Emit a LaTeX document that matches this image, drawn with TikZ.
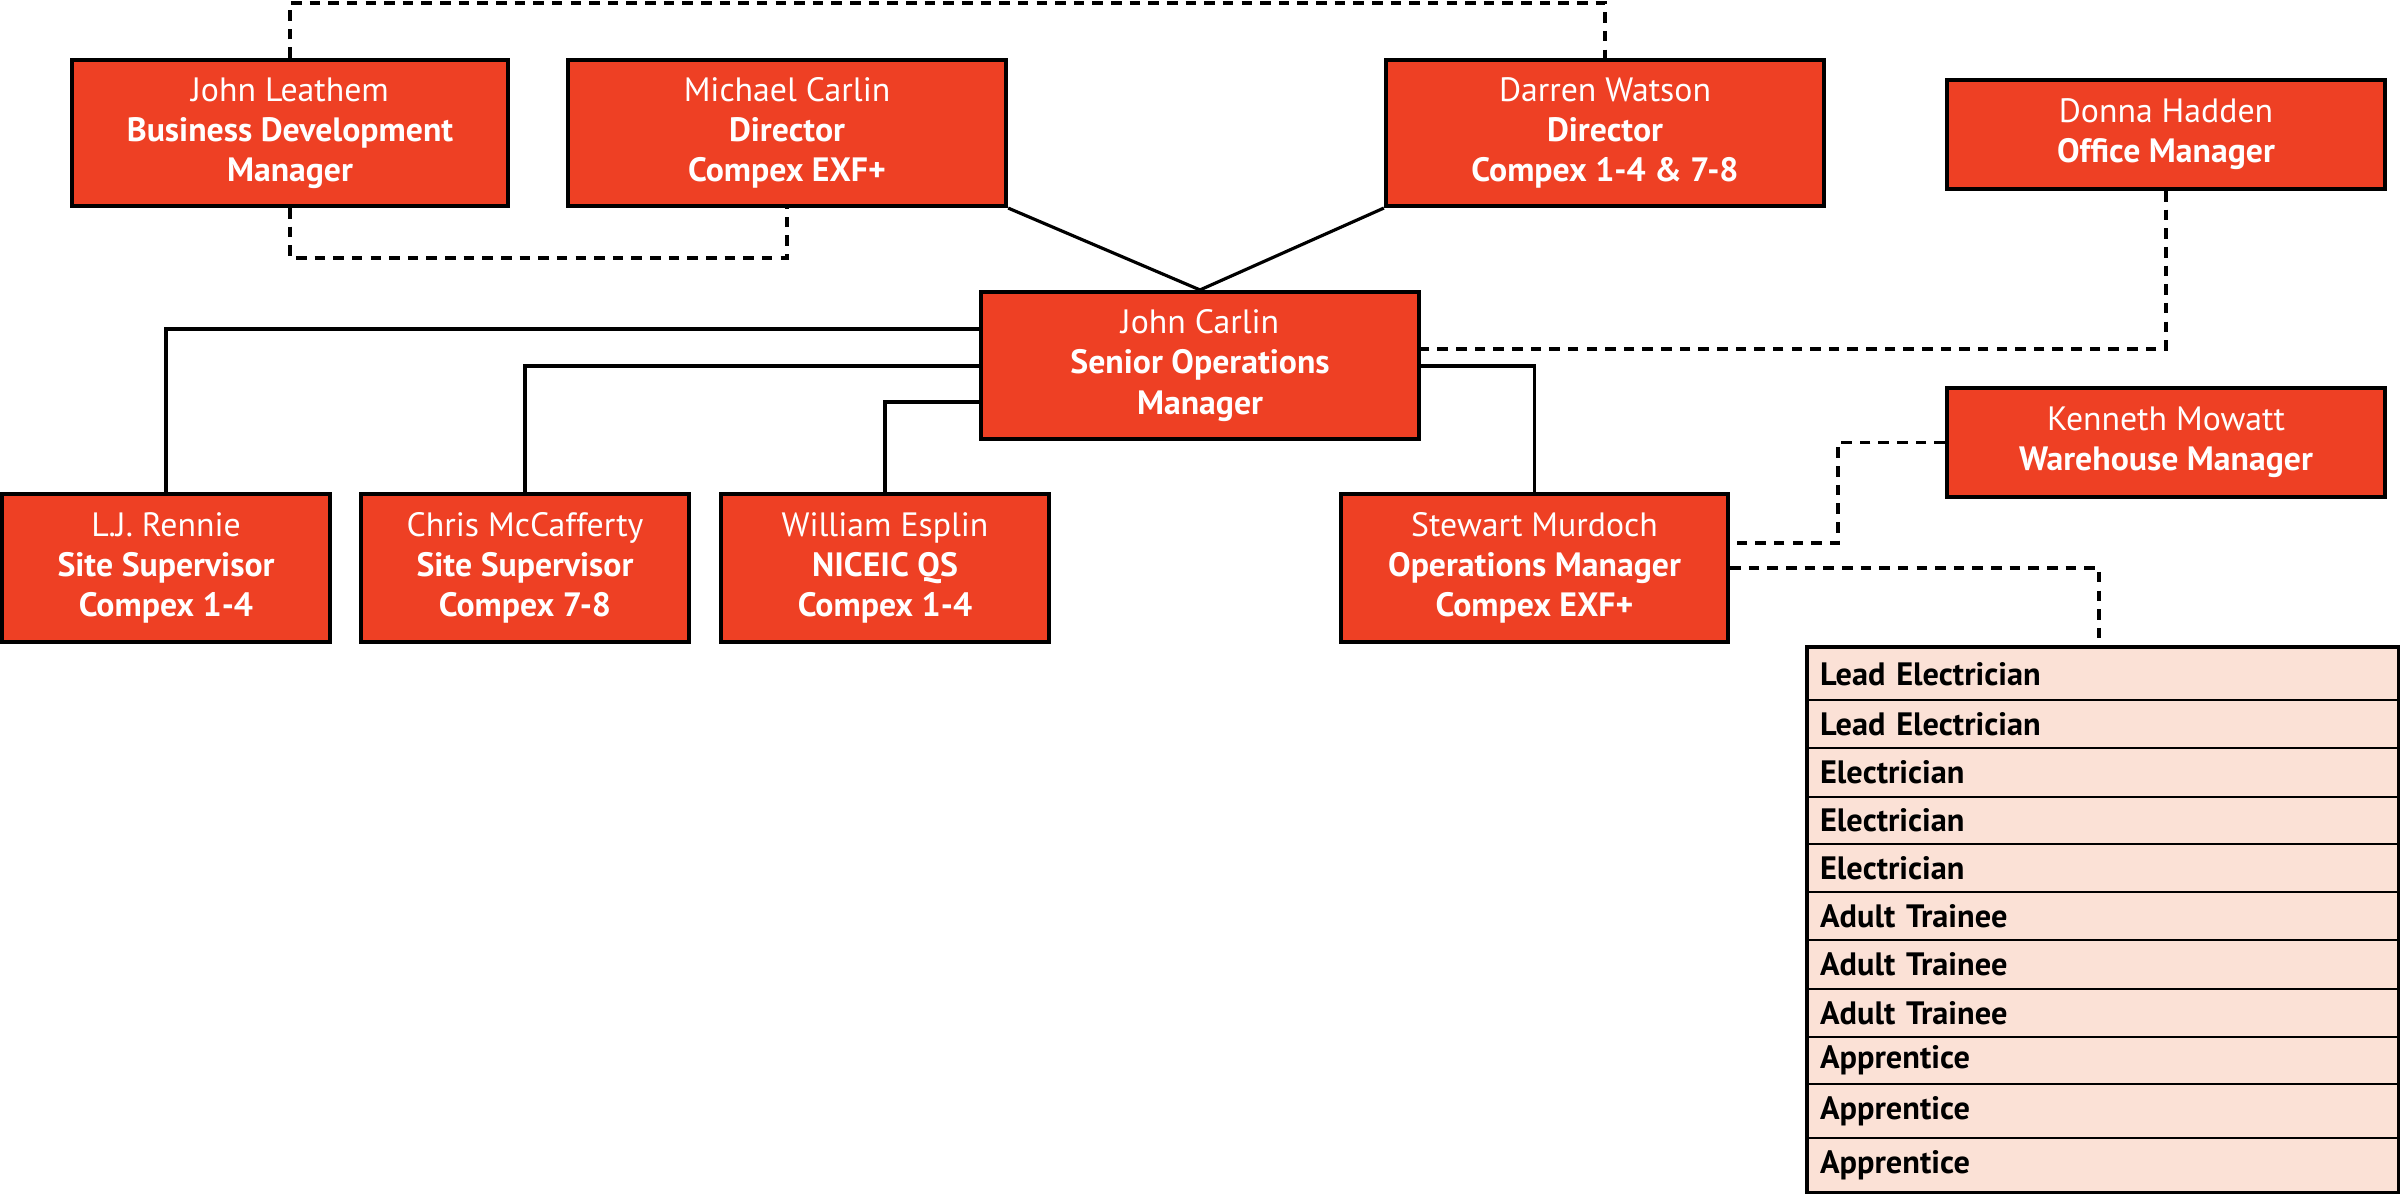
\documentclass[tikz,border=0pt]{standalone}
\usepackage{fontspec}
\setmainfont{PT Sans}
\definecolor{orgred}{RGB}{238,64,36}
\definecolor{peach}{RGB}{251,225,214}
\begin{document}
\begin{tikzpicture}[x=0.01cm,y=-0.01cm,
  orgbox/.style={draw=black, line width=1.15pt, fill=orgred, text=white, align=center, inner sep=0pt, font=\fontsize{9.6}{11.4}\selectfont},
  conn/.style={line width=0.9pt},
  dline/.style={line width=1.1pt, dash pattern=on 3pt off 2.3pt},
  rowbox/.style={draw=black, line width=0.6pt, fill=peach, anchor=north west, minimum width=5.9cm, text width=5.66cm, inner xsep=0.12cm, inner ysep=0pt, align=left, font=\fontsize{9.2}{10}\selectfont\bfseries}]
\path[use as bounding box, fill=white] (0,0) rectangle (2400,1194);

% boxes
\node[orgbox, minimum width=4.36cm, minimum height=1.46cm] (leathem) at (290,133) {John Leathem\\\textbf{Business Development}\\\textbf{Manager}};
\node[orgbox, minimum width=4.38cm, minimum height=1.46cm] (michael) at (787,133) {Michael Carlin\\\textbf{Director}\\\textbf{Compex EXF+}};
\node[orgbox, minimum width=4.38cm, minimum height=1.46cm] (darren) at (1605,133) {Darren Watson\\\textbf{Director}\\\textbf{Compex 1-4 \& 7-8}};
\node[orgbox, minimum width=4.38cm, minimum height=1.09cm] (donna) at (2166,134.5) {Donna Hadden\\\textbf{Office Manager}};
\node[orgbox, minimum width=4.38cm, minimum height=1.47cm] (carlin) at (1200,365.5) {John Carlin\\\textbf{Senior Operations}\\\textbf{Manager}};
\node[orgbox, minimum width=4.38cm, minimum height=1.09cm] (kenneth) at (2166,442.5) {Kenneth Mowatt\\\textbf{Warehouse Manager}};
\node[orgbox, minimum width=3.28cm, minimum height=1.48cm] (rennie) at (166,568) {L.J. Rennie\\\textbf{Site Supervisor}\\\textbf{Compex 1-4}};
\node[orgbox, minimum width=3.28cm, minimum height=1.48cm] (chris) at (525,568) {Chris McCafferty\\\textbf{Site Supervisor}\\\textbf{Compex 7-8}};
\node[orgbox, minimum width=3.28cm, minimum height=1.48cm] (william) at (885,568) {William Esplin\\\textbf{NICEIC QS}\\\textbf{Compex 1-4}};
\node[orgbox, minimum width=3.87cm, minimum height=1.48cm] (stewart) at (1534.5,568) {Stewart Murdoch\\\textbf{Operations Manager}\\\textbf{Compex EXF+}};

% table of trades
\node[rowbox, minimum height=0.52cm] (r1) at (1807,647) {Lead Electrician};
\node[rowbox, minimum height=0.48cm] (r2) at (1807,699) {Lead Electrician};
\node[rowbox, minimum height=0.49cm] (r3) at (1807,747) {Electrician};
\node[rowbox, minimum height=0.47cm] (r4) at (1807,796) {Electrician};
\node[rowbox, minimum height=0.48cm] (r5) at (1807,843) {Electrician};
\node[rowbox, minimum height=0.48cm] (r6) at (1807,891) {Adult Trainee};
\node[rowbox, minimum height=0.49cm] (r7) at (1807,939) {Adult Trainee};
\node[rowbox, minimum height=0.48cm] (r8) at (1807,988) {Adult Trainee};
\node[rowbox, minimum height=0.47cm] (r9) at (1807,1036) {Apprentice};
\node[rowbox, minimum height=0.54cm] (r10) at (1807,1083) {Apprentice};
\node[rowbox, minimum height=0.54cm] (r11) at (1807,1137) {Apprentice};
\draw[line width=1.15pt] (r1.north west) rectangle (r11.south east);

% solid connectors
\draw[conn] (michael.south east) -- (carlin.north) -- (darren.south west);
\draw[conn] (carlin.west |- 0,329) -| (rennie.north);
\draw[conn] (carlin.west |- 0,366) -| (chris.north);
\draw[conn] (carlin.west |- 0,402) -| (william.north);
\draw[conn] (carlin.east |- 0,366) -| (stewart.north);

% dashed connectors
\coordinate (topl) at (290,3);
\coordinate (lowl) at (290,258);
\draw[dline] (leathem.north) -- (topl) -- (darren.north |- topl) -- (darren.north);
\draw[dline] (leathem.south) -- (lowl) -- (michael.south |- lowl) -- (michael.south);
\coordinate (dbend) at (2166,349);
\draw[dline] (donna.south) -- (dbend) -- (carlin.east |- dbend);
\coordinate (kbend) at (1838,543);
\draw[dline] (kenneth.west) -| (kbend) -- (stewart.east |- kbend);
\coordinate (tbend) at (2099,568);
\draw[dline] (stewart.east |- tbend) -- (tbend) -- (tbend |- r1.north);
\end{tikzpicture}
\end{document}
